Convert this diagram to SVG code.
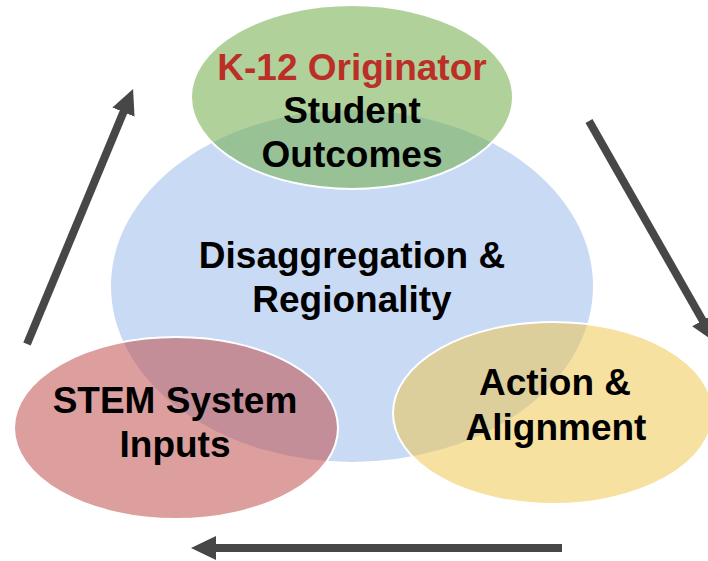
<svg xmlns="http://www.w3.org/2000/svg" width="708" height="561" viewBox="0 0 708 561">
<style>
text{font-family:"Liberation Sans",Arial,sans-serif;font-weight:bold;font-size:37px;text-anchor:middle;fill:#000}
.red{fill:#BB2F28}
.e{stroke:#fff;stroke-width:2}
.arr{stroke:#474747;stroke-width:8;fill:none}
</style>
<defs>
<marker id="ah" markerUnits="userSpaceOnUse" markerWidth="26" markerHeight="26" viewBox="0 0 26 26" refX="4" refY="13" orient="auto">
<path d="M0,1 L25,13 L0,25 z" fill="#474747"/>
</marker>
</defs>
<g id="connectors">
<line class="arr" x1="27" y1="344" x2="125" y2="108.4" marker-end="url(#ah)"/>
<line class="arr" x1="589" y1="121" x2="704.6" y2="323.8" marker-end="url(#ah)"/>
<line class="arr" x1="562" y1="548" x2="212" y2="548" marker-end="url(#ah)"/>
</g>
<g id="center">
<ellipse class="e" cx="352" cy="286" rx="242" ry="177" fill="#C9DAF5"/>
</g>
<g id="top">
<ellipse class="e" cx="352" cy="97" rx="161" ry="92" fill="#70AD47" fill-opacity="0.55"/>
</g>
<g id="left">
<ellipse class="e" cx="176" cy="428" rx="162" ry="91" fill="#C0504D" fill-opacity="0.55"/>
</g>
<g id="right">
<ellipse class="e" cx="553" cy="413" rx="160" ry="91" fill="#EFC341" fill-opacity="0.5"/>
</g>
<g id="labels">
<text class="red" x="352" y="80">K-12 Originator</text>
<text x="352" y="123">Student</text>
<text x="352" y="167">Outcomes</text>
<text x="352" y="268">Disaggregation &amp;</text>
<text x="352" y="312">Regionality</text>
<text x="175" y="413">STEM System</text>
<text x="175" y="457">Inputs</text>
<text x="555" y="395">Action &amp;</text>
<text x="556" y="440">Alignment</text>
</g>
</svg>
